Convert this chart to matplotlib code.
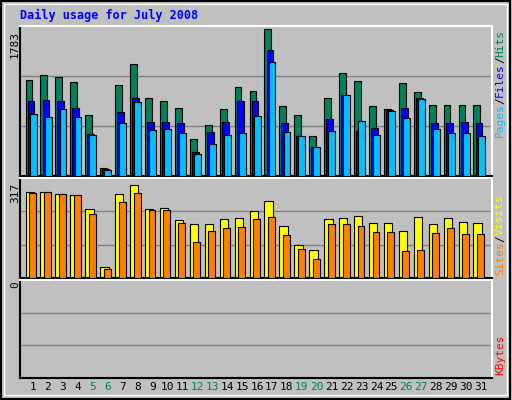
import matplotlib
matplotlib.use("Agg")
import matplotlib.pyplot as plt
import numpy as np

days = list(range(1, 32))
hits = [1168,1230,1205,1144,738,98,1107,1353,947,910,824,443,615,812,1082,1033,1783,849,738,480,947,1255,1156,849,812,1132,1021,861,861,861,861]
files = [910,922,910,824,504,86,775,947,652,652,640,295,529,652,910,910,1525,640,480,357,689,984,541,578,800,824,947,640,640,652,640]
pages = [750,713,812,713,492,74,640,898,553,566,517,270,394,492,517,726,1378,529,480,357,541,984,664,492,787,701,935,566,517,517,480]
visits = [293,293,286,283,235,37,286,317,235,239,198,184,184,201,205,228,262,177,112,95,201,205,211,188,188,160,208,184,205,191,188]
sites = [290,293,286,283,218,31,259,290,232,232,187,123,160,170,174,201,208,147,99,65,184,184,177,157,157,92,95,153,170,150,150]
weekend = [5,6,12,13,19,20,26,27]

BG = "#c0c0c0"
C_HITS, C_FILES, C_PAGES = "#00805c", "#0000ff", "#00c0ff"
C_VIS, C_SITES, C_KB = "#ffff00", "#ff8000", "#ff0000"
MONO = "DejaVu Sans Mono"

fig = plt.figure(figsize=(5.12, 4.0), dpi=100, facecolor=BG)
fig.patches.append(plt.Rectangle((0.002, 0.003), 0.994, 0.994, transform=fig.transFigure,
                                 fill=False, edgecolor="black", lw=1.5))
fig.patches.append(plt.Rectangle((0.008, 0.012), 0.982, 0.978, transform=fig.transFigure,
                                 fill=False, edgecolor="white", lw=1))

X0, W = 20/512, 472/512
def mkax(top, bot):
    ax = fig.add_axes([X0, 1-bot/400, W, (bot-top)/400], facecolor=BG)
    ax.set_xlim(0.13, 31.74)
    ax.set_xticks([]); ax.set_yticks([])
    for s in ["left", "bottom"]:
        ax.spines[s].set_color("black"); ax.spines[s].set_linewidth(1.5)
    for s in ["top", "right"]:
        ax.spines[s].set_color("white"); ax.spines[s].set_linewidth(1.5)
    return ax

x = np.array(days)
EW = 0.8
ax1 = mkax(26, 176)
ax1.set_ylim(0, 1820)
for g in (1820/3, 2*1820/3):
    ax1.axhline(g, color="#808080", lw=1, zorder=0)
ax1.bar(x-0.5, hits, width=0.46, align="edge", color=C_HITS, edgecolor="black", lw=EW, zorder=2)
ax1.bar(x-0.36, files, width=0.46, align="edge", color=C_FILES, edgecolor="black", lw=EW, zorder=3)
ax1.bar(x-0.22, pages, width=0.46, align="edge", color=C_PAGES, edgecolor="black", lw=EW, zorder=4)

ax2 = mkax(178, 278)
ax2.set_ylim(0, 340)
for g in (340/3, 2*340/3):
    ax2.axhline(g, color="#808080", lw=1, zorder=0)
ax2.bar(x-0.5, visits, width=0.56, align="edge", color=C_VIS, edgecolor="black", lw=EW, zorder=2)
ax2.bar(x-0.26, sites, width=0.46, align="edge", color=C_SITES, edgecolor="black", lw=EW, zorder=3)

ax3 = mkax(280, 378)
ax3.set_ylim(0, 3)
for g in (1, 2):
    ax3.axhline(g, color="#808080", lw=1, zorder=0)
ax3.set_xticks(days)
ax3.set_xticklabels([str(d) for d in days], fontfamily=MONO, fontsize=8)
ax3.tick_params(axis="x", length=0, pad=3)
for lbl, d in zip(ax3.get_xticklabels(), days):
    lbl.set_color(C_HITS if d in weekend else "black")

fig.text(20/512, 1-15/400, "Daily usage for July 2008", color="#0000ff", fontfamily=MONO,
         fontsize=8.5, fontweight="bold", va="center", ha="left")
for txt, yc in (("1783", 45), ("317", 193), ("0", 285)):
    fig.text(15/512, 1-yc/400, txt, rotation=90, fontfamily=MONO, fontsize=8, ha="center", va="center")

def vlabel(parts, ybot):
    y = ybot
    for t, c in parts:
        fig.text(500/512, 1-y/400, t, rotation=90, color=c, fontfamily=MONO, fontsize=8,
                 ha="center", va="bottom")
        y -= len(t)*6.7
vlabel([("Pages", C_PAGES), ("/", "black"), ("Files", C_FILES), ("/", "black"), ("Hits", C_HITS)], 137)
vlabel([("Sites", C_SITES), ("/", "black"), ("Visits", C_VIS)], 275)
vlabel([("KBytes", C_KB)], 375)

fig.savefig("out.png", dpi=100, facecolor=BG)
